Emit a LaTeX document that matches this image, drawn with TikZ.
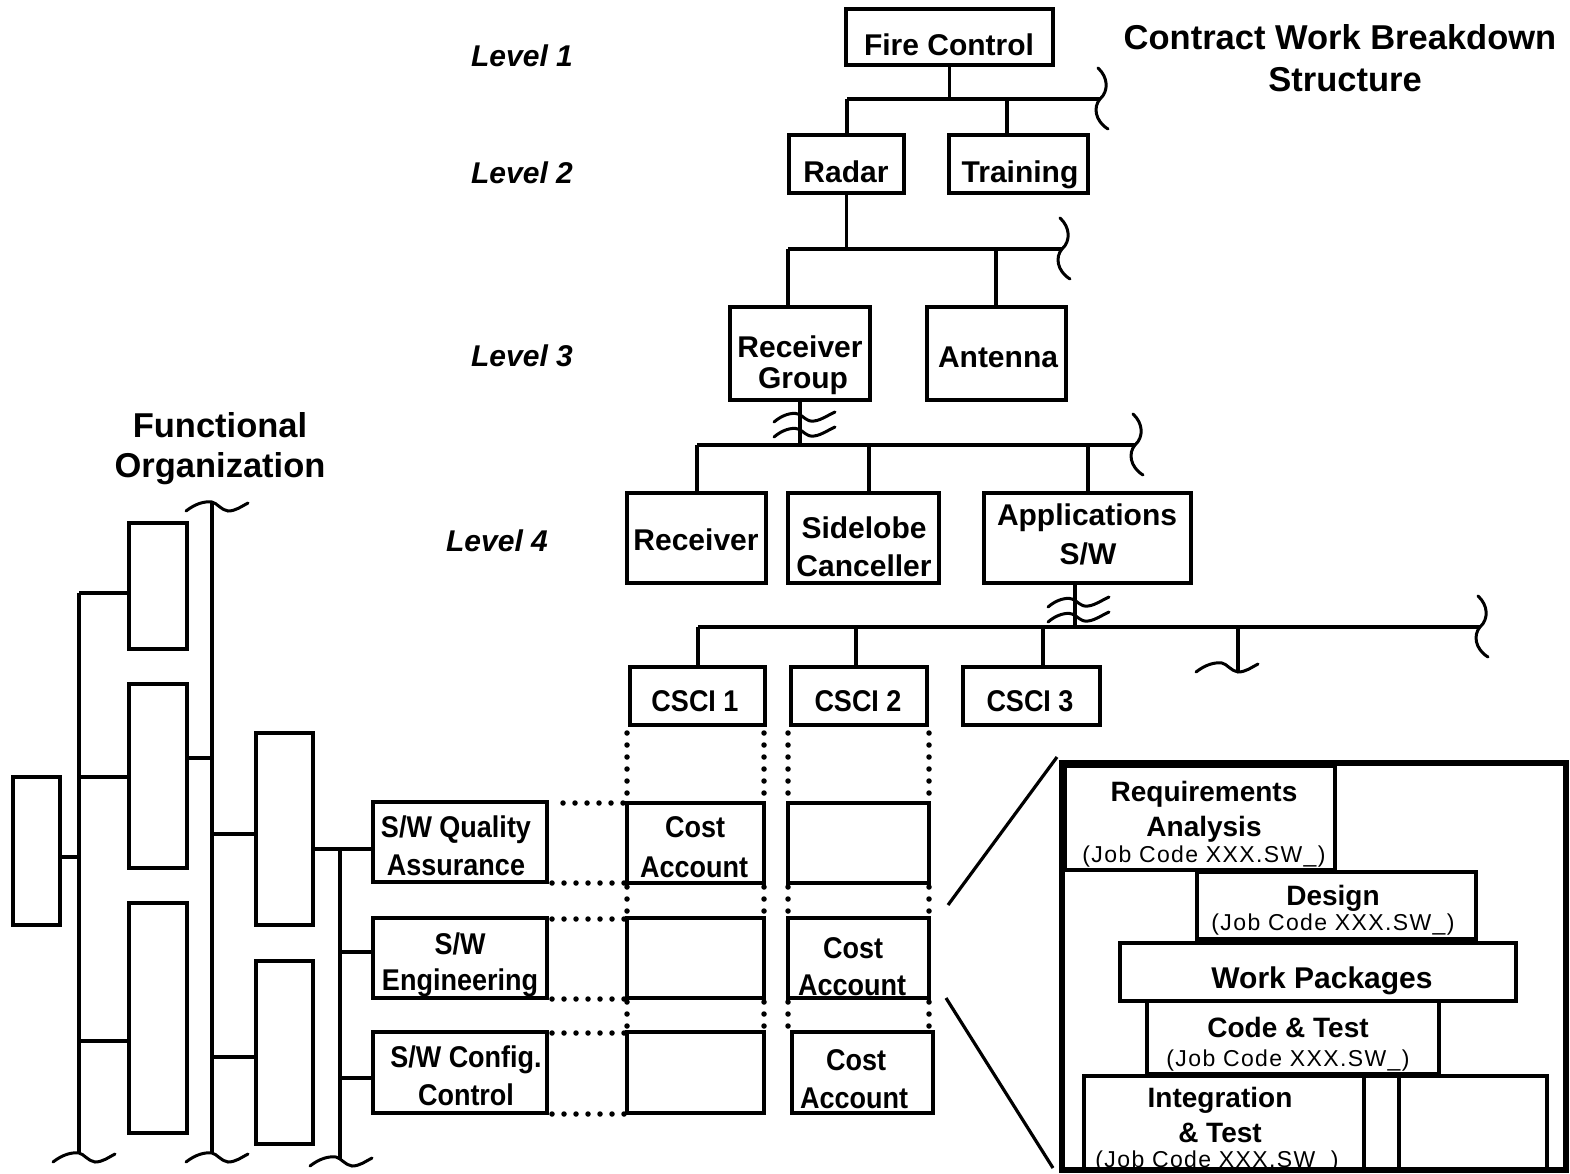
\documentclass[tikz,border=0pt]{standalone}
\usepackage{fontspec}
\setmainfont{Liberation Sans}
\newfontfamily\condfont[FakeStretch=0.9]{Liberation Sans}
\newfontfamily\jobfont[LetterSpace=6]{Liberation Sans}
\usetikzlibrary{fit,calc}
\tikzset{
  ln/.style={line width=3.2pt},
  bx/.style={draw, line width=3.2pt, inner sep=0pt, outer sep=0pt},
  t30/.style={anchor=base, inner sep=0pt, font=\bfseries\fontsize{30}{32}\selectfont},
  tcond/.style={anchor=base, inner sep=0pt, font=\condfont\bfseries\fontsize{30}{32}\selectfont},
  tlvl/.style={anchor=base, inner sep=0pt, font=\bfseries\itshape\fontsize{30}{32}\selectfont},
  ttitle/.style={anchor=base, inner sep=0pt, font=\bfseries\fontsize{34.5}{36}\selectfont},
  tsub/.style={anchor=base, inner sep=0pt, font=\bfseries\fontsize{28}{30}\selectfont},
  tjob/.style={anchor=base, inner sep=0pt, font=\jobfont\fontsize{23}{25}\selectfont},
  dotln/.style={line width=5.5pt, line cap=round, dash pattern=on 0pt off 12pt},
  brk/.style={line width=3pt, line cap=round},
  brace/.pic={\draw[brk] (-2,-31) .. controls (8,-22) and (9,-8) .. (0,0) .. controls (-7,8) and (-5,22) .. (8,30);},
  tl/.pic={\draw[brk] (-26,9) .. controls (-17,2) and (-8,-1) .. (0,0) .. controls (5,1) and (9,8) .. (16,9) .. controls (24,9) and (30,4) .. (36,1);},
  wv/.pic={\draw[brk] (-26,4) .. controls (-18,-3) and (-8,-6) .. (-2,-4) .. controls (4,-2) and (6,4) .. (14,3) .. controls (22,2) and (28,-3) .. (35,-6);},
}
\begin{document}
\begin{tikzpicture}[x=1pt,y=-1pt]
\useasboundingbox (0,0) rectangle (1570,1173);

% ---------- titles ----------
\node[tlvl] (l1) at (522,66) {Level 1};
\node[tlvl] (l2) at (522,183) {Level 2};
\node[tlvl] (l3) at (522,366) {Level 3};
\node[tlvl] (l4) at (497,551) {Level 4};
\node[ttitle] (ti1) at (1340,49) {Contract Work Breakdown};
\node[ttitle] (ti2) at (1345,91) {Structure};
\node[ttitle] (fo1) at (220,437) {Functional};
\node[ttitle] (fo2) at (220,477) {Organization};

% ---------- CWBS boxes ----------
\node[bx, fit={(846,9) (1053,65)}] (fc) {};
\node[t30] at (949,55) {Fire Control};
\node[bx, fit={(789,135) (904,193)}] (rad) {};
\node[t30] at (846,182) {Radar};
\node[bx, fit={(949,135) (1088,193)}] (trn) {};
\node[t30] at (1020,182) {Training};
\node[bx, fit={(730,307) (870,400)}] (rg) {};
\node[t30] at (800,357) {Receiver};
\node[t30] at (803,388) {Group};
\node[bx, fit={(927,307) (1066,400)}] (ant) {};
\node[t30] at (998,367) {Antenna};
\node[bx, fit={(627,493) (766,583)}] (rcv) {};
\node[t30] at (696,550) {Receiver};
\node[bx, fit={(788,493) (939,583)}] (sc) {};
\node[t30] at (864,538) {Sidelobe};
\node[t30] at (864,576) {Canceller};
\node[bx, fit={(984,493) (1191,583)}] (app) {};
\node[t30] at (1087,525) {Applications};
\node[t30] at (1088,564) {S/W};
\node[bx, fit={(630,667) (765,725)}] (cs1) {};
\node[tcond] at (695,711) {CSCI 1};
\node[bx, fit={(791,667) (927,725)}] (cs2) {};
\node[tcond] at (858,711) {CSCI 2};
\node[bx, fit={(963,667) (1100,725)}] (cs3) {};
\node[tcond] at (1030,711) {CSCI 3};

% ---------- CWBS connectors ----------
\coordinate (b1L) at (847,99);  \coordinate (b1R) at (1100,99); \coordinate (b1T) at (1007,99);
\draw[ln] (fc.south) -- (fc.south |- b1L);
\draw[ln] (b1L) -- (b1R);
\draw[ln] (b1L) -- (b1L |- rad.north);
\draw[ln] (b1T) -- (b1T |- trn.north);
\pic at (b1R) {brace};

\coordinate (b2L) at (788,249); \coordinate (b2R) at (1062,249); \coordinate (b2T) at (996,249);
\draw[ln] (rad.south) -- (rad.south |- b2L);
\draw[ln] (b2L) -- (b2R);
\draw[ln] (b2L) -- (b2L |- rg.north);
\draw[ln] (b2T) -- (b2T |- ant.north);
\pic at (b2R) {brace};

\coordinate (b3L) at (697,445); \coordinate (b3R) at (1135,445); \coordinate (b3M) at (869,445); \coordinate (b3A) at (1088,445);
\draw[ln] (rg.south) -- (rg.south |- b3L);
\pic at (800,418) {wv};
\pic at (800,433) {wv};
\draw[ln] (b3L) -- (b3R);
\draw[ln] (b3L) -- (b3L |- rcv.north);
\draw[ln] (b3M) -- (b3M |- sc.north);
\draw[ln] (b3A) -- (b3A |- app.north);
\pic at (b3R) {brace};

\coordinate (b4L) at (698,627); \coordinate (b4R) at (1480,627);
\coordinate (b4M) at (856,627); \coordinate (b4C) at (1043,627); \coordinate (b4X) at (1238,627); \coordinate (appB) at (1075,627);
\draw[ln] (app.south -| appB) -- (appB);
\pic at (1074,603) {wv};
\pic at (1074,618) {wv};
\draw[ln] (b4L) -- (b4R);
\draw[ln] (b4L) -- (b4L |- cs1.north);
\draw[ln] (b4M) -- (b4M |- cs2.north);
\draw[ln] (b4C) -- (b4C |- cs3.north);
\draw[ln] (b4X) -- ++(0,45);
\pic at (1222,663) {tl};
\pic at (b4R) {brace};

% ---------- Functional organization ----------
\node[bx, fit={(13,777) (60,925)}] (fL) {};
\node[bx, fit={(129,523) (187,649)}] (fA) {};
\node[bx, fit={(129,684) (187,868)}] (fB) {};
\node[bx, fit={(129,903) (187,1133)}] (fC) {};
\node[bx, fit={(256,733) (313,925)}] (fD) {};
\node[bx, fit={(256,961) (313,1144)}] (fE) {};
\coordinate (v1T) at (79,593); \coordinate (v1B) at (79,1153);
\coordinate (v2T) at (212,502); \coordinate (v2B) at (212,1153);
\coordinate (v3T) at (340,849); \coordinate (v3B) at (340,1160);
\draw[ln] (v1T) -- (v1B);
\draw[ln] (v2T) -- (v2B);
\draw[ln] (v3T) -- (v3B);
\pic at (v1B) {tl};
\pic at (v2B) {tl};
\pic at (v2T) {tl};
\pic at (336,1157) {tl};
\draw[ln] ($(fL.east)+(0,6)$) -- ++(19,0);
\draw[ln] ($(fA.west)+(0,7)$) -- ++(-50,0);
\draw[ln] ($(fB.west)+(0,1)$) -- ++(-50,0);
\draw[ln] ($(fC.west)+(0,23)$) -- ++(-50,0);
\draw[ln] ($(fB.east)+(0,-18)$) -- ++(25,0);
\draw[ln] ($(fD.west)+(0,5)$) -- ++(-44,0);
\draw[ln] ($(fE.west)+(0,4.5)$) -- ++(-44,0);

% S/W boxes
\node[bx, fit={(373,802) (547,882)}] (qa) {};
\node[tcond] at (456,837) {S/W Quality};
\node[tcond] at (456,875) {Assurance};
\node[bx, fit={(373,918) (547,998)}] (eng) {};
\node[tcond] at (460,954) {S/W};
\node[tcond] at (460,990) {Engineering};
\node[bx, fit={(373,1032) (547,1113)}] (cfg) {};
\node[tcond] at (466,1067) {S/W Config.};
\node[tcond] at (466,1105) {Control};
\draw[ln] ($(fD.east)+(0,20)$) -- ++(27,0);
\draw[ln] ($(qa.west)+(0,7)$) -- ++(-33,0);
\draw[ln] ($(eng.west)+(0,-6)$) -- ++(-33,0);
\draw[ln] ($(cfg.west)+(0,5.5)$) -- ++(-33,0);

% ---------- cost account matrix ----------
\node[bx, fit={(627,803) (764,883)}] (c11) {};
\node[tcond] at (695,837) {Cost};
\node[tcond] at (694,877) {Account};
\node[bx, fit={(788,803) (929,883)}] (c12) {};
\node[bx, fit={(627,918) (764,998)}] (c21) {};
\node[bx, fit={(788,918) (929,998)}] (c22) {};
\node[tcond] at (853,958) {Cost};
\node[tcond] at (852,995) {Account};
\node[bx, fit={(627,1032) (764,1113)}] (c31) {};
\node[bx, fit={(792,1032) (933,1113)}] (c32) {};
\node[tcond] at (856,1070) {Cost};
\node[tcond] at (854,1108) {Account};

% dotted links
\foreach \c in {c11.north west, c11.north east, c12.north west, c12.north east}
  \draw[dotln] ($(\c)+(0,-70)$) -- ($(\c)+(0,-9)$);
\foreach \c in {c11.south west, c11.south east, c12.south west, c12.south east,
                c21.south west, c21.south east, c22.south west, c22.south east}
  \draw[dotln] ($(\c)+(0,4)$) -- ($(\c)+(0,28.5)$);
\draw[dotln] ($(qa.north east)+(16,1)$) -- ($(qa.north east)+(77.5,1)$);
\foreach \c in {qa.south east, eng.north east, eng.south east, cfg.north east, cfg.south east}
  \draw[dotln] ($(\c)+(5,1)$) -- ($(\c)+(77.5,1)$);

% ---------- work package detail ----------
\node[bx, fit={(1062,763) (1566,1170)}, line width=6pt] (fr) {};
\node[bx, fit={(1065,766) (1335,870)}] (req) {};
\node[tsub] at (1204,801) {Requirements};
\node[tsub] at (1204,836) {Analysis};
\node[tjob] at (1204,862) {(Job Code XXX.SW\_)};
\draw[ln] (fr.west |- req.south) -- (1197,870);
\node[bx, fit={(1197,872) (1476,939)}] (des) {};
\node[tsub] at (1333,905) {Design};
\node[tjob] at (1333,930) {(Job Code XXX.SW\_)};
\node[bx, fit={(1120,943) (1516,1001)}] (wp) {};
\node[t30] at (1322,988) {Work Packages};
\node[bx, fit={(1147,1001) (1439,1074)}] (ct) {};
\node[tsub] at (1288,1037) {Code \& Test};
\node[tjob] at (1288,1066) {(Job Code XXX.SW\_)};
\node[bx, fit={(1084,1076) (1364,1170)}] (it) {};
\node[tsub] at (1220,1107) {Integration};
\node[tsub] at (1220,1142) {\& Test};
\node[tjob] at (1217,1167) {(Job Code XXX.SW\_)};
\node[bx, fit={(1364,1076) (1399,1170)}] (nb) {};
\node[bx, fit={(1399,1076) (1547,1170)}] (rb) {};
\draw[line width=6pt] (fr.north west) rectangle (fr.south east);

\draw[ln] ($(c22.north east)+(19,-13)$) -- ($(fr.north west)+(-5,-6)$);
\draw[ln] ($(c22.south east)+(17,0)$) -- ($(fr.south west)+(-9,-2)$);
\end{tikzpicture}
\end{document}
